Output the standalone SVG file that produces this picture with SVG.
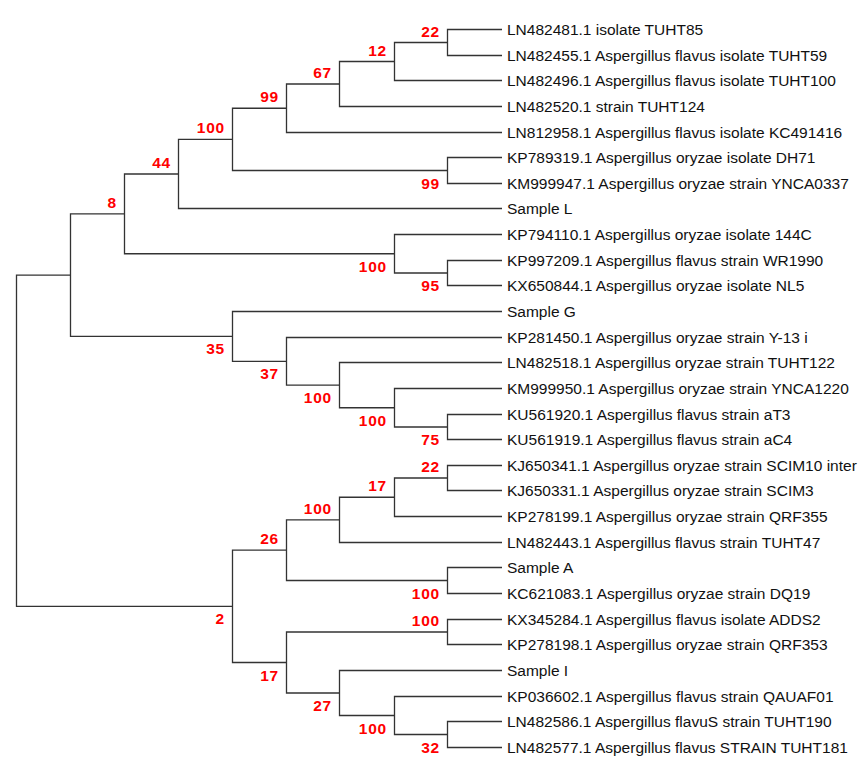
<svg xmlns="http://www.w3.org/2000/svg" width="863" height="763" viewBox="0 0 863 763">
<style>
.br{fill:none;stroke:#333;stroke-width:1.3}
.lf{font-family:"Liberation Sans",Arial,sans-serif;font-size:15.5px;fill:#111}
.bs{font-family:"Liberation Sans",Arial,sans-serif;font-size:15.5px;font-weight:bold;fill:#f00;text-anchor:end;letter-spacing:0.8px}
</style>
<rect width="863" height="763" fill="#fff"/>
<g id="connectors">
<path class="br" d="M70.5 275.2H16.5V606.35H232.5"/>
<path class="br" d="M124.5 213.9H70.5V336.4H232.5"/>
<path class="br" d="M178.5 174H124.5V253.75H394.5"/>
<path class="br" d="M232.5 139.4H178.5V208.5H502"/>
<path class="br" d="M286.5 108.25H232.5V170.5H447.5"/>
<path class="br" d="M339.5 84H286.5V132.5H502"/>
<path class="br" d="M394.5 61.5H339.5V106.5H502"/>
<path class="br" d="M447.5 42.5H394.5V80.5H502"/>
<path class="br" d="M502 29.5H447.5V55.5H502"/>
<path class="br" d="M502 157.5H447.5V183.5H502"/>
<path class="br" d="M502 234.5H394.5V273H447.5"/>
<path class="br" d="M502 260.5H447.5V285.5H502"/>
<path class="br" d="M502 311.5H232.5V361.3H286.5"/>
<path class="br" d="M502 337.5H286.5V385.1H339.5"/>
<path class="br" d="M502 362.5H339.5V407.75H394.5"/>
<path class="br" d="M502 388.5H394.5V427H447.5"/>
<path class="br" d="M502 414.5H447.5V439.5H502"/>
<path class="br" d="M286.5 550.2H232.5V662.5H286.5"/>
<path class="br" d="M339.5 519.9H286.5V580.5H447.5"/>
<path class="br" d="M394.5 497.25H339.5V542.5H502"/>
<path class="br" d="M447.5 478H394.5V516.5H502"/>
<path class="br" d="M502 465.5H447.5V490.5H502"/>
<path class="br" d="M502 567.5H447.5V593.5H502"/>
<path class="br" d="M447.5 632H286.5V693H339.5"/>
<path class="br" d="M502 619.5H447.5V644.5H502"/>
<path class="br" d="M502 670.5H339.5V715.5H394.5"/>
<path class="br" d="M502 696.5H394.5V734.5H447.5"/>
<path class="br" d="M502 721.5H447.5V747.5H502"/>
</g>
<g id="leaves">
<g id="leaf0"><text class="lf" x="507" y="34.5">LN482481.1 isolate TUHT85</text></g>
<g id="leaf1"><text class="lf" x="507" y="60.5">LN482455.1 Aspergillus flavus isolate TUHT59</text></g>
<g id="leaf2"><text class="lf" x="507" y="85.5">LN482496.1 Aspergillus flavus isolate TUHT100</text></g>
<g id="leaf3"><text class="lf" x="507" y="111.5">LN482520.1 strain TUHT124</text></g>
<g id="leaf4"><text class="lf" x="507" y="137.5">LN812958.1 Aspergillus flavus isolate KC491416</text></g>
<g id="leaf5"><text class="lf" x="507" y="162.5">KP789319.1 Aspergillus oryzae isolate DH71</text></g>
<g id="leaf6"><text class="lf" x="507" y="188.5">KM999947.1 Aspergillus oryzae strain YNCA0337</text></g>
<g id="leaf7"><text class="lf" x="507" y="213.5">Sample L</text></g>
<g id="leaf8"><text class="lf" x="507" y="239.5">KP794110.1 Aspergillus oryzae isolate 144C</text></g>
<g id="leaf9"><text class="lf" x="507" y="265.5">KP997209.1 Aspergillus flavus strain WR1990</text></g>
<g id="leaf10"><text class="lf" x="507" y="290.5">KX650844.1 Aspergillus oryzae isolate NL5</text></g>
<g id="leaf11"><text class="lf" x="507" y="316.5">Sample G</text></g>
<g id="leaf12"><text class="lf" x="507" y="342.5">KP281450.1 Aspergillus oryzae strain Y-13 i</text></g>
<g id="leaf13"><text class="lf" x="507" y="367.5">LN482518.1 Aspergillus oryzae strain TUHT122</text></g>
<g id="leaf14"><text class="lf" x="507" y="393.5">KM999950.1 Aspergillus oryzae strain YNCA1220</text></g>
<g id="leaf15"><text class="lf" x="507" y="419.5">KU561920.1 Aspergillus flavus strain aT3</text></g>
<g id="leaf16"><text class="lf" x="507" y="444.5">KU561919.1 Aspergillus flavus strain aC4</text></g>
<g id="leaf17"><text class="lf" x="507" y="470.5">KJ650341.1 Aspergillus oryzae strain SCIM10 inter</text></g>
<g id="leaf18"><text class="lf" x="507" y="495.5">KJ650331.1 Aspergillus oryzae strain SCIM3</text></g>
<g id="leaf19"><text class="lf" x="507" y="521.5">KP278199.1 Aspergillus oryzae strain QRF355</text></g>
<g id="leaf20"><text class="lf" x="507" y="547.5">LN482443.1 Aspergillus flavus strain TUHT47</text></g>
<g id="leaf21"><text class="lf" x="507" y="572.5">Sample A</text></g>
<g id="leaf22"><text class="lf" x="507" y="598.5">KC621083.1 Aspergillus oryzae strain DQ19</text></g>
<g id="leaf23"><text class="lf" x="507" y="624.5">KX345284.1 Aspergillus flavus isolate ADDS2</text></g>
<g id="leaf24"><text class="lf" x="507" y="649.5">KP278198.1 Aspergillus oryzae strain QRF353</text></g>
<g id="leaf25"><text class="lf" x="507" y="675.5">Sample I</text></g>
<g id="leaf26"><text class="lf" x="507" y="701.5">KP036602.1 Aspergillus flavus strain QAUAF01</text></g>
<g id="leaf27"><text class="lf" x="507" y="726.5">LN482586.1 Aspergillus flavuS strain TUHT190</text></g>
<g id="leaf28"><text class="lf" x="507" y="752.5">LN482577.1 Aspergillus flavus STRAIN TUHT181</text></g>
</g>
<g id="nodes">
<g id="n22a"><text class="bs" x="440" y="36.5">22</text></g>
<g id="n12"><text class="bs" x="387" y="55.5">12</text></g>
<g id="n67"><text class="bs" x="332" y="78">67</text></g>
<g id="n99a"><text class="bs" x="279" y="102.2">99</text></g>
<g id="n100a"><text class="bs" x="225" y="133.4">100</text></g>
<g id="n44"><text class="bs" x="171" y="168">44</text></g>
<g id="n8"><text class="bs" x="117" y="207.9">8</text></g>
<g id="n99b"><text class="bs" x="440" y="188.5">99</text></g>
<g id="n100b"><text class="bs" x="387" y="271.7">100</text></g>
<g id="n95"><text class="bs" x="440" y="291">95</text></g>
<g id="n35"><text class="bs" x="225" y="354.4">35</text></g>
<g id="n37"><text class="bs" x="279" y="379.3">37</text></g>
<g id="n100c"><text class="bs" x="332" y="403.1">100</text></g>
<g id="n100d"><text class="bs" x="387" y="425.7">100</text></g>
<g id="n75"><text class="bs" x="440" y="445">75</text></g>
<g id="n22b"><text class="bs" x="440" y="472">22</text></g>
<g id="n17a"><text class="bs" x="387" y="491.2">17</text></g>
<g id="n100e"><text class="bs" x="332" y="513.9">100</text></g>
<g id="n26"><text class="bs" x="279" y="544.2">26</text></g>
<g id="n100f"><text class="bs" x="440" y="598.5">100</text></g>
<g id="n2"><text class="bs" x="225" y="624.3">2</text></g>
<g id="n100g"><text class="bs" x="440" y="626">100</text></g>
<g id="n17b"><text class="bs" x="279" y="680.5">17</text></g>
<g id="n27"><text class="bs" x="332" y="711">27</text></g>
<g id="n100h"><text class="bs" x="387" y="733.5">100</text></g>
<g id="n32"><text class="bs" x="440" y="752.5">32</text></g>
</g>
</svg>
